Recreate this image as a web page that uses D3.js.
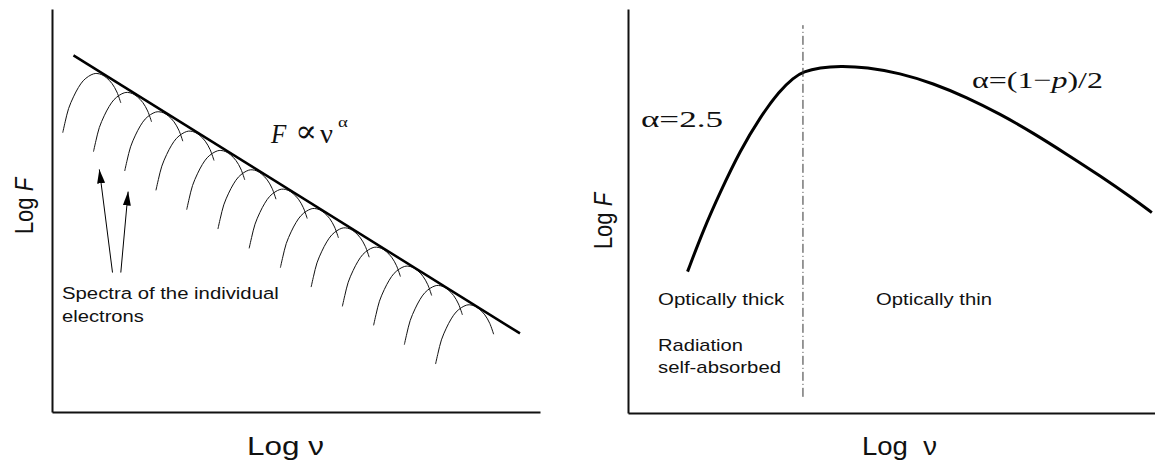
<!DOCTYPE html>
<html>
<head>
<meta charset="utf-8">
<script src="https://cdn.jsdelivr.net/npm/d3@7"></script>
<style>
  body { margin: 0; background: #fff; }
  svg { display: block; }
</style>
</head>
<body>
<div id="chart"></div>
<script>
// left panel: single-electron spectra (peak positions, log units)
var peakLogNu = [0.92, 1.55, 2.19, 2.83, 3.46, 4.10, 4.74, 5.38, 6.01, 6.65, 7.29, 7.92, 8.56];
var peakLogF  = [8.40, 7.93, 7.45, 6.97, 6.49, 6.01, 5.53, 5.05, 4.57, 4.09, 3.62, 3.14, 2.66];
// shape of one spectrum relative to its peak
var shapeDNu = [-0.70, -0.65, -0.58, -0.48, -0.38, -0.28, -0.17, -0.07, 0, 0.10, 0.20, 0.31, 0.41, 0.49];
var shapeDF  = [-1.47, -1.20, -0.87, -0.58, -0.35, -0.18, -0.07, -0.01, 0, -0.03, -0.11, -0.25, -0.46, -0.73];
// power-law envelope
var envLogNu = [0.44, 9.59];
var envLogF  = [8.85, 1.95];
// annotation arrows
var arrowTailNu = [1.24, 1.41];
var arrowTailF  = [3.46, 3.46];
var arrowTipNu  = [0.97, 1.56];
var arrowTipF   = [6.02, 5.47];

// right panel: self-absorbed synchrotron spectrum
var sedLogNu = [1.13, 1.43, 1.75, 2.13, 2.51, 2.88, 3.14, 3.33, 3.64, 4.02, 4.53, 5.16, 5.79, 6.43, 7.06, 7.69, 8.32, 8.96, 9.59, 9.94];
var sedLogF  = [3.50, 4.53, 5.47, 6.50, 7.33, 7.98, 8.30, 8.45, 8.55, 8.59, 8.56, 8.41, 8.16, 7.81, 7.40, 6.93, 6.41, 5.87, 5.30, 4.96];
var breakLogNu = 3.32;
var breakLogF = [0.40, 9.60];

var width = 1155, height = 463;
var sans = "'Liberation Sans', Arial, sans-serif";
var serif = "'Liberation Serif', 'DejaVu Serif', serif";

var svg = d3.select("#chart").append("svg")
    .attr("width", width)
    .attr("height", height);

var xL = d3.scaleLinear().domain([0, 10]).range([52, 540]);
var yL = d3.scaleLinear().domain([0, 10]).range([412, 9]);
var xR = d3.scaleLinear().domain([0, 10]).range([628, 1155]);
var yR = d3.scaleLinear().domain([0, 10]).range([413, 9]);

svg.append("defs").append("marker")
    .attr("id", "head")
    .attr("markerUnits", "userSpaceOnUse")
    .attr("markerWidth", 14)
    .attr("markerHeight", 8)
    .attr("refX", 14)
    .attr("refY", 4)
    .attr("orient", "auto")
    .append("path")
    .attr("d", "M0,0L14,4L0,8Z")
    .attr("fill", "#000");

// axes (no ticks, just the frame lines)
function drawAxes(x, y) {
    svg.append("g")
        .attr("transform", "translate(0," + y.range()[0] + ")")
        .call(d3.axisBottom(x).tickValues([]).tickSizeOuter(0));
    svg.append("g")
        .attr("transform", "translate(" + x.range()[0] + ",0)")
        .call(d3.axisLeft(y).tickValues([]).tickSizeOuter(0));
}
drawAxes(xL, yL);
drawAxes(xR, yR);
svg.selectAll(".domain").attr("stroke", "#111").attr("stroke-width", 2);

// individual electron spectra
var arcLine = d3.line()
    .x(function(d) { return xL(d[0]); })
    .y(function(d) { return yL(d[1]); })
    .curve(d3.curveCatmullRom);

peakLogNu.forEach(function(nu, i) {
    var pts = shapeDNu.map(function(dn, j) { return [nu + dn, peakLogF[i] + shapeDF[j]]; });
    svg.append("path")
        .attr("d", arcLine(pts))
        .attr("fill", "none")
        .attr("stroke", "#111")
        .attr("stroke-width", 1);
});

svg.append("line")
    .attr("x1", xL(envLogNu[0])).attr("y1", yL(envLogF[0]))
    .attr("x2", xL(envLogNu[1])).attr("y2", yL(envLogF[1]))
    .attr("stroke", "#000")
    .attr("stroke-width", 2.5);

arrowTailNu.forEach(function(nu, i) {
    svg.append("line")
        .attr("x1", xL(nu)).attr("y1", yL(arrowTailF[i]))
        .attr("x2", xL(arrowTipNu[i])).attr("y2", yL(arrowTipF[i]))
        .attr("stroke", "#000")
        .attr("stroke-width", 1)
        .attr("marker-end", "url(#head)");
});

// right panel
var sedLine = d3.line()
    .x(function(d) { return xR(d[0]); })
    .y(function(d) { return yR(d[1]); })
    .curve(d3.curveBasis);

svg.append("path")
    .attr("d", sedLine(sedLogNu.map(function(d, i) { return [d, sedLogF[i]]; })))
    .attr("fill", "none")
    .attr("stroke", "#000")
    .attr("stroke-width", 3);

svg.append("line")
    .attr("x1", xR(breakLogNu)).attr("y1", yR(breakLogF[0]))
    .attr("x2", xR(breakLogNu)).attr("y2", yR(breakLogF[1]))
    .attr("stroke", "#333")
    .attr("stroke-width", 1)
    .attr("stroke-dasharray", "9,3,1,3");

// text, stretched horizontally to the given width
function addText(x, y, w, size, family, parts) {
    var t = svg.append("text")
        .attr("font-size", size)
        .attr("font-family", family)
        .attr("fill", "#111");
    parts.forEach(function(p) {
        var s = t.append("tspan").text(p.t);
        if (p.italic) s.attr("font-style", "italic");
    });
    var bb = t.node().getBBox();
    var sx = w / bb.width;
    t.attr("transform", "translate(" + (x - bb.x * sx) + "," + y + ") scale(" + sx + ",1)");
    return t;
}

function addVertical(x, cy, size, sx) {
    var t = svg.append("text")
        .attr("font-size", size)
        .attr("font-family", sans)
        .attr("fill", "#111")
        .attr("text-anchor", "middle")
        .attr("transform", "translate(" + x + "," + cy + ") rotate(-90) scale(1," + sx + ")");
    t.append("tspan").text("Log ");
    t.append("tspan").attr("font-style", "italic").text("F");
}

addText(62, 299, 217, 17, sans, [{t: "Spectra of the individual"}]);
addText(62, 322, 82, 17, sans, [{t: "electrons"}]);
addText(270, 143, 17, 28, serif, [{t: "F", italic: true}]);
addText(295, 142, 22, 32, serif, [{t: "\u221D"}]);
addText(320, 143, 13, 28, serif, [{t: "\u03BD"}]);
addText(338, 127, 10, 15, serif, [{t: "\u03B1"}]);
addText(247, 455, 77, 26, sans, [{t: "Log \u03BD"}]);
addVertical(33, 206, 22, 1.15);

addText(641, 127, 82, 24, serif, [{t: "\u03B1=2.5"}]);
addText(972, 88, 131, 24, serif, [{t: "\u03B1=(1\u2212"}, {t: "p", italic: true}, {t: ")/2"}]);
addText(658, 305, 127, 17, sans, [{t: "Optically thick"}]);
addText(876, 305, 116, 17, sans, [{t: "Optically thin"}]);
addText(658, 351, 85, 17, sans, [{t: "Radiation"}]);
addText(658, 373, 123, 17, sans, [{t: "self-absorbed"}]);
addText(862, 455, 75, 26, sans, [{t: "Log\u00A0\u00A0\u03BD"}]);
addVertical(612, 221, 22, 1.15);
</script>
</body>
</html>
